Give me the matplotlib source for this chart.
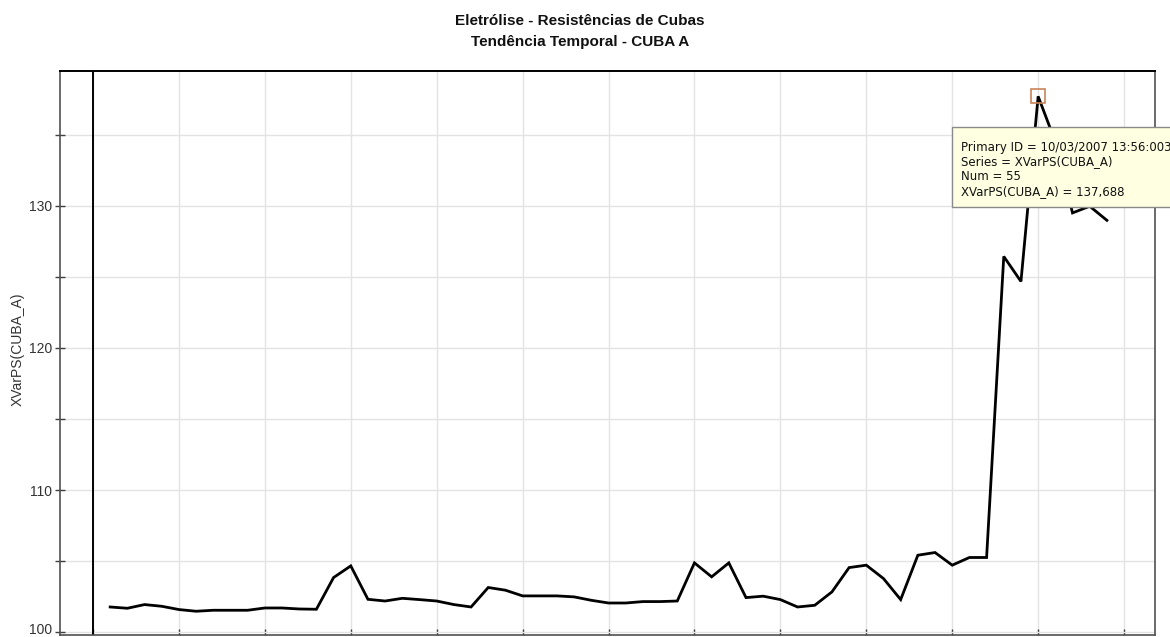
import matplotlib
matplotlib.use("Agg")
import matplotlib.pyplot as plt
from matplotlib.patches import Rectangle
from matplotlib.transforms import ScaledTranslation

# Series XVarPS(CUBA_A), sample numbers 1..59
num = list(range(1, 60))
xvarps = [
    101.78, 101.69, 101.95, 101.83, 101.60, 101.48, 101.55, 101.55, 101.55, 101.71,
    101.71, 101.64, 101.62, 103.85, 104.67, 102.32, 102.20, 102.39, 102.30, 102.20,
    101.95, 101.78, 103.15, 102.96, 102.56, 102.56, 102.56, 102.49, 102.25, 102.06,
    102.06, 102.16, 102.16, 102.20, 104.88, 103.90, 104.88, 102.44, 102.54, 102.30,
    101.78, 101.90, 102.84, 104.55, 104.72, 103.78, 102.30, 105.42, 105.61, 104.72,
    105.26, 105.26, 126.43, 124.67, 137.688, 134.50, 129.49, 129.96, 128.97,
]

y_ticks_major = [100, 105, 110, 115, 120, 125, 130, 135]
y_tick_labels = ["100", "", "110", "", "120", "", "130", ""]
x_grid = list(range(0, 61, 5))

title_lines = ["Eletrólise - Resistências de Cubas", "Tendência Temporal - CUBA A"]
y_label = "XVarPS(CUBA_A)"

# highlighted point (tooltip)
sel_num = 55
sel_id = "10/03/2007 13:56:003"

W, H = 1170, 637
fig = plt.figure(figsize=(W / 100, H / 100), dpi=100)
fig.patch.set_facecolor("white")

ax = fig.add_axes([60 / W, 1 - 635 / H, (1155 - 60) / W, (635 - 71) / H])
ax.set_xlim(-1.92, 61.8)
ax.set_ylim(99.81, 139.47)

ax.set_yticks(y_ticks_major)
ax.set_yticklabels(y_tick_labels)
ax.set_xticks(x_grid)
ax.set_xticklabels([])
ax.tick_params(axis="y", direction="inout", length=7, width=1.0, color="#404040",
               labelsize=10, labelcolor="#333333", pad=2)
ax.tick_params(axis="x", direction="in", length=4, width=1.0, color="#404040")
for lbl in ax.get_yticklabels():
    lbl.set_family("Liberation Sans")
# keep the lowest label inside the canvas
low = ax.get_yticklabels()[0]
low.set_transform(low.get_transform() + ScaledTranslation(0, 4 / 100, fig.dpi_scale_trans))

ax.grid(True, color="#e3e3e3", lw=1.0)
ax.set_axisbelow(True)

for side in ("left", "right", "bottom"):
    ax.spines[side].set_color("#505050")
    ax.spines[side].set_linewidth(1.2)
ax.spines["top"].set_color("black")
ax.spines["top"].set_linewidth(1.4)

# zero line of the sample axis
ax.axvline(0, color="black", lw=1.4, zorder=2)

ax.plot(num, xvarps, color="black", lw=2.0, solid_joinstyle="miter", zorder=3)

sel_val = xvarps[num.index(sel_num)]
ax.plot([sel_num], [sel_val], marker="s", ms=9.4, mfc="none", mec="#c8845a",
        mew=1.2, zorder=4)

# title
fig.text(580 / W, 1 - 21 / H, title_lines[0], ha="center", va="center",
         fontsize=11, fontweight="bold", family="Liberation Sans", color="#111111")
fig.text(580 / W, 1 - 42 / H, title_lines[1], ha="center", va="center",
         fontsize=11, fontweight="bold", family="Liberation Sans", color="#111111")

# y-axis title
fig.text(18 / W, 1 - 349 / H, y_label, rotation=90, ha="center", va="center",
         fontsize=10, family="Liberation Sans", color="#333333")

# tooltip box
box = Rectangle((952 / W, 1 - 207 / H), (W + 5 - 952) / W, 80 / H,
                transform=fig.transFigure, facecolor="#ffffe1", edgecolor="#8a8a8a",
                lw=1.0, zorder=10)
fig.add_artist(box)
val_txt = f"{sel_val:.3f}".replace(".", ",")
tip_lines = [
    f"Primary ID = {sel_id}",
    f"Series = {y_label}",
    f"Num = {sel_num}",
    f"{y_label} = {val_txt}",
]
for i, line in enumerate(tip_lines):
    fig.text(961 / W, 1 - (147 + 15 * i) / H, line, ha="left", va="center",
             fontsize=8.5, family="DejaVu Sans", color="#111111", zorder=11)

fig.savefig("out.png", dpi=100, facecolor="white")
